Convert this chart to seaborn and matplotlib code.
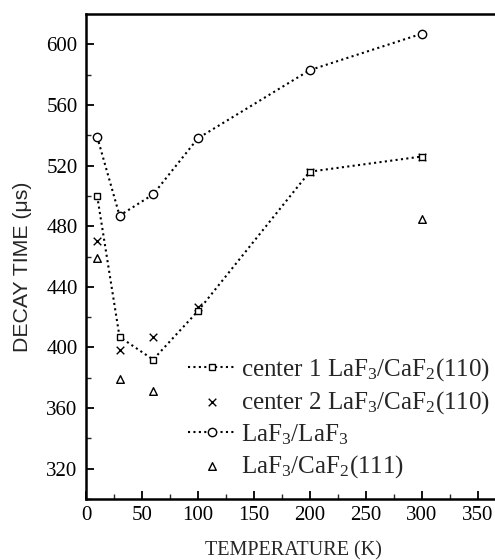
import matplotlib
matplotlib.use("Agg")
import matplotlib.pyplot as plt
import seaborn as sns
import pandas as pd

# temperatures (K) and decay times (us)
temp_c1 = [10, 30, 60, 100, 200, 300]
decay_c1 = [500, 407, 392, 424, 516, 526]

temp_c2 = [10, 30, 60, 100, 200, 300]
decay_c2 = [470, 398, 407, 427, 516, 526]

temp_laf = [10, 30, 60, 100, 200, 300]
decay_laf = [539, 487, 501, 538, 583, 607]

temp_111 = [10, 30, 60, 300]
decay_111 = [459, 379, 371, 485]

labels = [
    "center 1 LaF$_3$/CaF$_2$(110)",
    "center 2 LaF$_3$/CaF$_2$(110)",
    "LaF$_3$/LaF$_3$",
    "LaF$_3$/CaF$_2$(111)",
]

x_ticks = [0, 50, 100, 150, 200, 250, 300, 350]
y_ticks = [320, 360, 400, 440, 480, 520, 560, 600]

sns.set_style("ticks")
plt.rcParams["font.family"] = ["Liberation Serif", "DejaVu Serif"]
plt.rcParams["mathtext.fontset"] = "custom"
plt.rcParams["mathtext.rm"] = "Liberation Serif"
plt.rcParams["mathtext.it"] = "Liberation Serif"

df_c1 = pd.DataFrame({"T": temp_c1, "tau": decay_c1})
df_c2 = pd.DataFrame({"T": temp_c2, "tau": decay_c2})
df_laf = pd.DataFrame({"T": temp_laf, "tau": decay_laf})
df_111 = pd.DataFrame({"T": temp_111, "tau": decay_111})

dots = (0, (1, 1.6))

fig = plt.figure(figsize=(4.95, 5.6), dpi=100)
# axes run past the right edge of the page, as in the scanned original
ax = fig.add_axes([0.1737, 0.1089, 0.8364, 0.866])

sns.lineplot(data=df_c1, x="T", y="tau", ax=ax, color="black", linestyle=dots,
             linewidth=1.5, marker="s", markersize=5, markerfacecolor="white",
             markeredgecolor="black", markeredgewidth=1.0, label=labels[0])
sns.scatterplot(data=df_c2, x="T", y="tau", ax=ax, color="black", marker="x",
                s=30, linewidth=1.0, label=labels[1])
sns.lineplot(data=df_laf, x="T", y="tau", ax=ax, color="black", linestyle=dots,
             linewidth=1.5, marker="o", markersize=6, markerfacecolor="white",
             markeredgecolor="black", markeredgewidth=1.0, label=labels[2])
sns.scatterplot(data=df_111, x="T", y="tau", ax=ax, marker="^", s=30,
                facecolor="white", edgecolor="black", linewidth=1.0,
                label=labels[3])

ax.set_xlim(0, 370)
ax.set_ylim(300, 620)
ax.set_xticks(x_ticks)
ax.set_yticks(y_ticks)
ax.set_xticks(range(25, 370, 50), minor=True)
ax.set_yticks(range(300, 620, 40), minor=True)
ax.tick_params(axis="both", which="major", direction="in", length=6,
               width=1.3, labelsize=15, colors="black")
ax.tick_params(axis="x", which="major", pad=5)
ax.tick_params(axis="y", which="major", pad=6)
ax.tick_params(axis="both", which="minor", direction="in", length=3.5,
               width=1.0)
for side in ["left", "bottom", "top", "right"]:
    ax.spines[side].set_visible(True)
    ax.spines[side].set_linewidth(1.8)
    ax.spines[side].set_color("black")

ax.set_xlabel("TEMPERATURE (K)", fontsize=14.5)
ax.xaxis.set_label_coords(0.5, -0.088)
ax.set_ylabel("DECAY TIME (\u03bcs)", fontsize=15.3,
              family=["Liberation Sans", "DejaVu Sans"])
ax.yaxis.set_label_coords(-0.13, 0.478)

leg = ax.legend(loc="lower left", bbox_to_anchor=(0.246, 0.04), frameon=False,
                fontsize=18, handlelength=1.92, handletextpad=0.2,
                labelspacing=0.24, borderaxespad=0, borderpad=0)

fig.savefig("out.png", dpi=100)
